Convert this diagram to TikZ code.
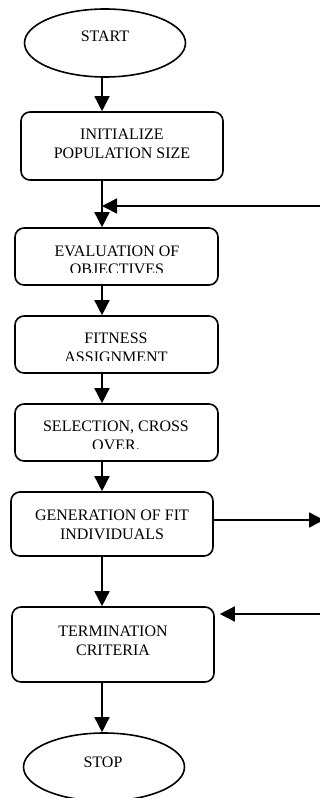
\documentclass[tikz,border=0pt]{standalone}
\usepackage{fontspec}
\setmainfont{Liberation Serif}
\usetikzlibrary{arrows.meta,shapes.geometric}
\begin{document}
\begin{tikzpicture}[x=1pt,y=-1pt,
  procbox/.style={draw,line width=1.6pt,rounded corners=9pt,inner sep=0pt,rectangle},
  termnode/.style={draw,ellipse,line width=1.6pt,inner sep=0pt,minimum width=161pt,minimum height=68pt},
  lbl/.style={font=\fontsize{16}{18.7}\selectfont,align=center,inner sep=0pt,anchor=base},
  flow/.style={line width=1.5pt,-{Triangle[length=15pt,width=15pt]}},
]
\useasboundingbox (0,0) rectangle (320,798);
\coordinate (colx) at (102,0);
% terminals
\node[termnode] (start) at (105,43) {};
\node[lbl] (tstart) at (105,41.3) {START};
\node[termnode] (stop) at (104,767) {};
\node[lbl] (tstop) at (103,767) {STOP};
% boxes (label y = baseline of the last line)
\node[procbox,minimum width=202pt,minimum height=68pt] (init) at (122,146) {};
\node[lbl] (tinit) at (122,158) {INITIALIZE\\POPULATION SIZE};
\node[procbox,minimum width=203pt,minimum height=57pt] (eval) at (116.5,256.5) {};
\begin{scope}
\clip (15,228) rectangle (218,272.7);
\node[lbl] (teval) at (117,274.7) {EVALUATION OF\\OBJECTIVES};
\end{scope}
\node[procbox,minimum width=203pt,minimum height=57pt] (fit) at (116.5,344.5) {};
\begin{scope}
\clip (15,316) rectangle (218,360);
\node[lbl] (tfit) at (116,362.3) {FITNESS\\ASSIGNMENT};
\end{scope}
\node[procbox,minimum width=203pt,minimum height=57pt] (sel) at (116.5,432.5) {};
\begin{scope}
\clip (15,404) rectangle (218,448.3);
\node[lbl] (tsel) at (116,450) {SELECTION, CROSS\\OVER.};
\end{scope}
\node[procbox,minimum width=202pt,minimum height=64pt] (gen) at (112,524) {};
\node[lbl] (tgen) at (112,539) {GENERATION OF FIT\\INDIVIDUALS};
\node[procbox,minimum width=202pt,minimum height=75pt] (termc) at (113,644.5) {};
\node[lbl] (tterm) at (113,655) {TERMINATION\\CRITERIA};
% free ends
\coordinate (join) at (102,206);
\coordinate (fbin) at (320,206);
\coordinate (genout) at (324,520);
\coordinate (fbterm) at (320,614);
% connectors
\draw[flow] (start.south -| colx) -- (init.north -| colx);
\draw[flow] (init.south -| colx) -- (eval.north -| colx);
\draw[flow] (fbin) -- (join);
\draw[flow] (eval.south -| colx) -- (fit.north -| colx);
\draw[flow] (fit.south -| colx) -- (sel.north -| colx);
\draw[flow] (sel.south -| colx) -- (gen.north -| colx);
\draw[flow] (gen.east |- genout) -- (genout);
\draw[flow] (gen.south -| colx) -- (termc.north -| colx);
\draw[flow] (fbterm) -- ([xshift=5pt]termc.east |- fbterm);
\draw[flow] (termc.south -| colx) -- (stop.north -| colx);
\end{tikzpicture}
\end{document}
